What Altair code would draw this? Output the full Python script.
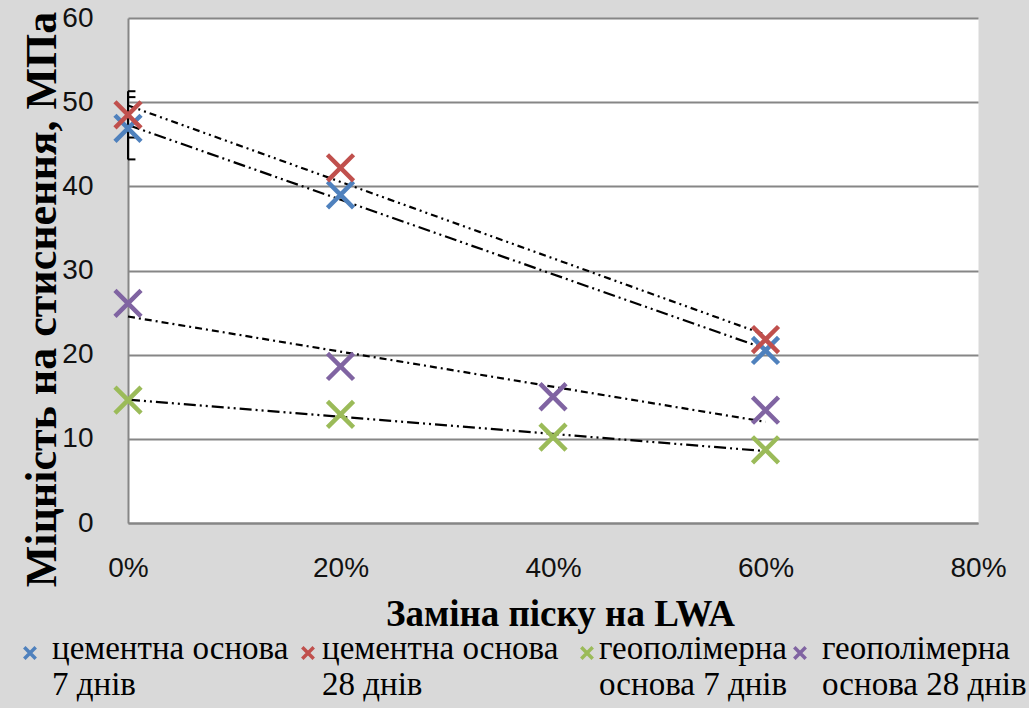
import altair as alt
import pandas as pd

# Sand replacement by LWA (fraction) and compressive strength, MPa
replacement = [0.0, 0.2, 0.4, 0.6]
series_names = [
    "цементна основа|7 днів",
    "цементна основа|28 днів",
    "геополімерна|основа 7 днів",
    "геополімерна|основа 28 днів",
]
cement_7 = [46.9, 39.0, None, 20.5]
cement_28 = [48.5, 42.2, None, 21.8]
geopolymer_7 = [14.6, 12.9, 10.2, 8.7]
geopolymer_28 = [26.1, 18.6, 15.0, 13.4]

# scatter at 0 % replacement for the cement mixes
err_series = [series_names[0], series_names[1]]
err_low = [43.2, 45.8]
err_high = [50.6, 51.3]

colors = ["#4F81BD", "#C0504D", "#9BBB59", "#8064A2"]
dashes = [[12, 4, 2, 4, 2, 4], [7, 4, 2, 4, 2, 4], [12, 4, 2, 4, 2, 4], [7, 4, 2, 4]]

# legend layout (pixel offsets from the plot's left edge)
legend_symbol_px = [-98, 180, 459, 672]
legend_text_px = [-76, 194, 471, 694]

rows = []
for name, vals in zip(series_names, [cement_7, cement_28, geopolymer_7, geopolymer_28]):
    for x, v in zip(replacement, vals):
        if v is not None:
            rows.append({"x": x, "y": v, "series": name})
df = pd.DataFrame(rows)
err_df = pd.DataFrame({"series": err_series, "x": [0.0, 0.0], "lo": err_low, "hi": err_high})
legend_df = pd.DataFrame(
    {
        "series": series_names,
        "line1": [s.split("|")[0] for s in series_names],
        "line2": [s.split("|")[1] for s in series_names],
    }
)

cross = "M-1,-1L1,1M1,-1L-1,1"
x_scale = alt.Scale(domain=[0, 0.8], nice=False)
y_scale = alt.Scale(domain=[0, 60], nice=False)
color_scale = alt.Scale(domain=series_names, range=colors)

x_enc = alt.X(
    "x:Q",
    scale=x_scale,
    axis=alt.Axis(
        values=[0, 0.2, 0.4, 0.6, 0.8],
        format=".0%",
        grid=False,
        ticks=False,
        labelFlush=False,
        labelPadding=31,
        title="Заміна піску на LWA",
        titleX=432,
        titleY=91,
        titleBaseline="middle",
    ),
)
y_enc = alt.Y(
    "y:Q",
    scale=y_scale,
    axis=alt.Axis(
        values=[0, 10, 20, 30, 40, 50, 60],
        grid=True,
        ticks=False,
        labelPadding=35,
        title="Міцність на стиснення, МПа",
        titleAngle=270,
        titleX=-86,
        titleY=281,
        titleAlign="center",
        titleBaseline="middle",
    ),
)

trend = (
    alt.Chart(df)
    .transform_regression("x", "y", groupby=["series"], method="linear")
    .mark_line(color="black", strokeWidth=2.2)
    .encode(
        x=alt.X("x:Q", scale=x_scale),
        y=alt.Y("y:Q", scale=y_scale),
        strokeDash=alt.StrokeDash(
            "series:N", scale=alt.Scale(domain=series_names, range=dashes), legend=None
        ),
    )
)

err_rule = (
    alt.Chart(err_df)
    .mark_rule(color="black", strokeWidth=2)
    .encode(x=alt.X("x:Q", scale=x_scale), y=alt.Y("lo:Q", scale=y_scale), y2="hi:Q")
)
cap_lo = (
    alt.Chart(err_df)
    .transform_calculate(xc="datum.x + 0.007")
    .mark_rule(color="black", strokeWidth=2)
    .encode(x=alt.X("x:Q", scale=x_scale), x2="xc:Q", y=alt.Y("lo:Q", scale=y_scale))
)
cap_hi = (
    alt.Chart(err_df)
    .transform_calculate(xc="datum.x + 0.007")
    .mark_rule(color="black", strokeWidth=2)
    .encode(x=alt.X("x:Q", scale=x_scale), x2="xc:Q", y=alt.Y("hi:Q", scale=y_scale))
)

points = (
    alt.Chart(df)
    .mark_point(shape=cross, size=680, strokeWidth=4.5, filled=False, opacity=1)
    .encode(
        x=x_enc,
        y=y_enc,
        color=alt.Color("series:N", scale=color_scale, legend=None),
    )
)

# legend drawn below the x-axis title, one entry per series
legend_layers = []
for i, name in enumerate(series_names):
    entry = legend_df[legend_df["series"] == name]
    legend_layers.append(
        alt.Chart(entry)
        .mark_point(shape=cross, size=130, strokeWidth=3.5, filled=False, opacity=1)
        .encode(
            x=alt.value(legend_symbol_px[i]),
            y=alt.value(635),
            color=alt.Color("series:N", scale=color_scale, legend=None),
        )
    )
    for field, ypx in (("line1", 641), ("line2", 677)):
        legend_layers.append(
            alt.Chart(entry)
            .mark_text(
                align="left",
                baseline="alphabetic",
                font="Liberation Serif",
                fontSize=33,
                color="black",
            )
            .encode(x=alt.value(legend_text_px[i]), y=alt.value(ypx), text=f"{field}:N")
        )

chart = (
    alt.layer(trend, err_rule, cap_lo, cap_hi, points, *legend_layers)
    .properties(
        width=850,
        height=505,
        autosize=alt.AutoSizeParams(type="none"),
        padding={"left": 128, "top": 18, "right": 51, "bottom": 185},
        background="#d9d9d9",
    )
    .configure_view(fill="white", stroke="transparent")
    .configure_axis(
        domainColor="#868686",
        domainWidth=2,
        gridColor="#868686",
        gridWidth=2,
        labelFont="Liberation Sans",
        labelFontSize=28,
        labelColor="#111111",
        titleFont="Liberation Serif",
        titleFontWeight="bold",
        titleColor="black",
    )
    .configure_axisX(titleFontSize=37)
    .configure_axisY(titleFontSize=44)
)

chart.save("out.html", embed_options={"renderer": "svg", "actions": False})
